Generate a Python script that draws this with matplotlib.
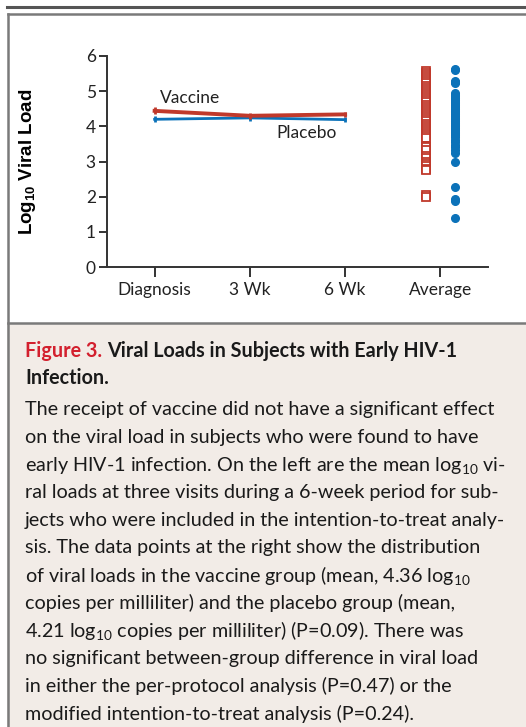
import matplotlib
matplotlib.use("Agg")
import matplotlib.pyplot as plt
from matplotlib.lines import Line2D
from matplotlib.patches import Rectangle

plt.rcParams['font.family'] = ['Lato', 'DejaVu Sans']
plt.rcParams['mathtext.fontset'] = 'custom'
plt.rcParams['mathtext.rm'] = 'Lato'
plt.rcParams['mathtext.it'] = 'Lato:italic'
plt.rcParams['mathtext.bf'] = 'Liberation Sans:bold'

# data
visits = ["Diagnosis", "3 Wk", "6 Wk", "Average"]
vaccine_mean = [4.44, 4.30, 4.34]
placebo_mean = [4.20, 4.24, 4.19]
vaccine_err = [0.10, 0.08, 0.08]
placebo_err = [0.08, 0.08, 0.08]

vaccine_pts = [5.56, 5.51, 5.46, 5.4, 5.34, 5.28, 5.22, 5.16, 5.1, 5.04, 4.98,
               4.92, 4.86, 4.8, 4.74, 4.68, 4.62, 4.56, 4.5, 4.44, 4.38, 4.32,
               4.26, 4.2, 4.14, 4.08, 4.02, 3.96, 3.9, 3.84, 3.78, 3.72, 3.66,
               3.44, 3.4, 3.34, 3.16, 3.1, 3.0, 2.94, 2.86, 2.8, 2.75, 2.04, 1.98]
placebo_pts = [5.63, 5.6, 5.3, 5.26, 5.22, 4.95, 4.9, 4.85, 4.8, 4.75, 4.7, 4.65, 4.6,
               4.55, 4.5, 4.45, 4.4, 4.35, 4.3, 4.25, 4.2, 4.15, 4.1, 4.05, 4.0,
               3.95, 3.9, 3.85, 3.8, 3.75, 3.7, 3.62, 3.55, 3.48, 3.4, 3.32, 3.25,
               3.0, 2.27, 1.94, 1.88, 1.38]

red = "#c0392b"
blue = "#0b72b9"

fig = plt.figure(figsize=(5.26, 7.27), dpi=100)
W, H = 526.0, 727.0

def fx(px):
    return px / W

def fy(py):
    return 1 - py / H

# frame and caption panel
fig.add_artist(Rectangle((fx(7), 0), 1, fy(323), facecolor="#f2ece7", edgecolor="none", zorder=0))
fig.add_artist(Line2D([fx(7), 1], [fy(6.5), fy(6.5)], color="#555555", lw=2.2))
fig.add_artist(Line2D([fx(7.5), 1], [fy(13.5), fy(13.5)], color="#7a7a7a", lw=1.8))
fig.add_artist(Line2D([fx(7.5), fx(7.5)], [fy(13.5), 0], color="#7a7a7a", lw=1.8))
fig.add_artist(Line2D([fx(7.5), 1], [fy(323), fy(323)], color="#7a7a7a", lw=1.8))

ax = fig.add_axes([fx(107), fy(267), fx(488) - fx(107), (267 - 56) / H])
ax.set_xlim(-0.5, 3.5)
ax.set_ylim(0, 6)
ax.patch.set_alpha(0)

x3 = [0, 1, 2]
ax.errorbar(x3, placebo_mean, yerr=placebo_err, color=blue, lw=2, elinewidth=2, capsize=0, zorder=3)
ax.errorbar(x3, vaccine_mean, yerr=vaccine_err, color=red, lw=2.8, elinewidth=2, capsize=0, zorder=4)

ax.plot([2.85] * len(vaccine_pts), vaccine_pts, ls="none", marker="s", ms=5.2,
        mfc="white", mec=red, mew=1.3, clip_on=False)
ax.plot([3.15] * len(placebo_pts), placebo_pts, ls="none", marker="o", ms=5.5,
        mfc=blue, mec=blue, clip_on=False)

ax.text(0.06, 4.8, "Vaccine", fontsize=12.5, color="#222222", va="center", ha="left")
ax.text(1.28, 3.82, "Placebo", fontsize=12.5, color="#222222", va="center", ha="left")

for s in ["top", "right"]:
    ax.spines[s].set_visible(False)
for s in ["left", "bottom"]:
    ax.spines[s].set_linewidth(1.4)
    ax.spines[s].set_color("#333333")
ax.set_xticks(range(4))
ax.set_xticklabels(visits, fontsize=12.5, color="#222222")
ax.set_yticks(range(7))
ax.set_yticklabels([str(i) for i in range(7)], fontsize=12.5, color="#222222")
ax.tick_params(axis="x", length=7, width=1.4, color="#333333", pad=4)
ax.tick_params(axis="y", length=6, width=1.4, color="#333333", pad=2)
ax.set_ylabel("Log$_{\\mathbf{10}}$ Viral Load", fontsize=13.5, fontweight="bold",
              family="Liberation Sans")
ax.yaxis.set_label_coords(-0.18, 0.5)

# caption
fs = 14.2
t = fig.text(fx(25), fy(351), "Figure 3.", fontsize=fs, fontweight="bold", color="#d3202e", va="center")
fig.canvas.draw()
bb = t.get_window_extent()
fig.text(bb.x1 / W + fx(5), fy(351), "Viral Loads in Subjects with Early HIV-1", fontsize=fs,
         fontweight="bold", color="#1a1a1a", va="center")
fig.text(fx(25), fy(378), "Infection.", fontsize=fs, fontweight="bold", color="#1a1a1a", va="center")

body = [
    "The receipt of vaccine did not have a significant effect",
    "on the viral load in subjects who were found to have",
    "early HIV-1 infection. On the left are the mean log$_{10}$ vi-",
    "ral loads at three visits during a 6-week period for sub-",
    "jects who were included in the intention-to-treat analy-",
    "sis. The data points at the right show the distribution",
    "of viral loads in the vaccine group (mean, 4.36 log$_{10}$",
    "copies per milliliter) and the placebo group (mean,",
    "4.21 log$_{10}$ copies per milliliter) (P=0.09). There was",
    "no significant between-group difference in viral load",
    "in either the per-protocol analysis (P=0.47) or the",
    "modified intention-to-treat analysis (P=0.24).",
]
for i, line in enumerate(body):
    fig.text(fx(25), fy(410 + i * 27.6), line, fontsize=fs, color="#1a1a1a", va="center")

fig.savefig("out.png", dpi=100)
